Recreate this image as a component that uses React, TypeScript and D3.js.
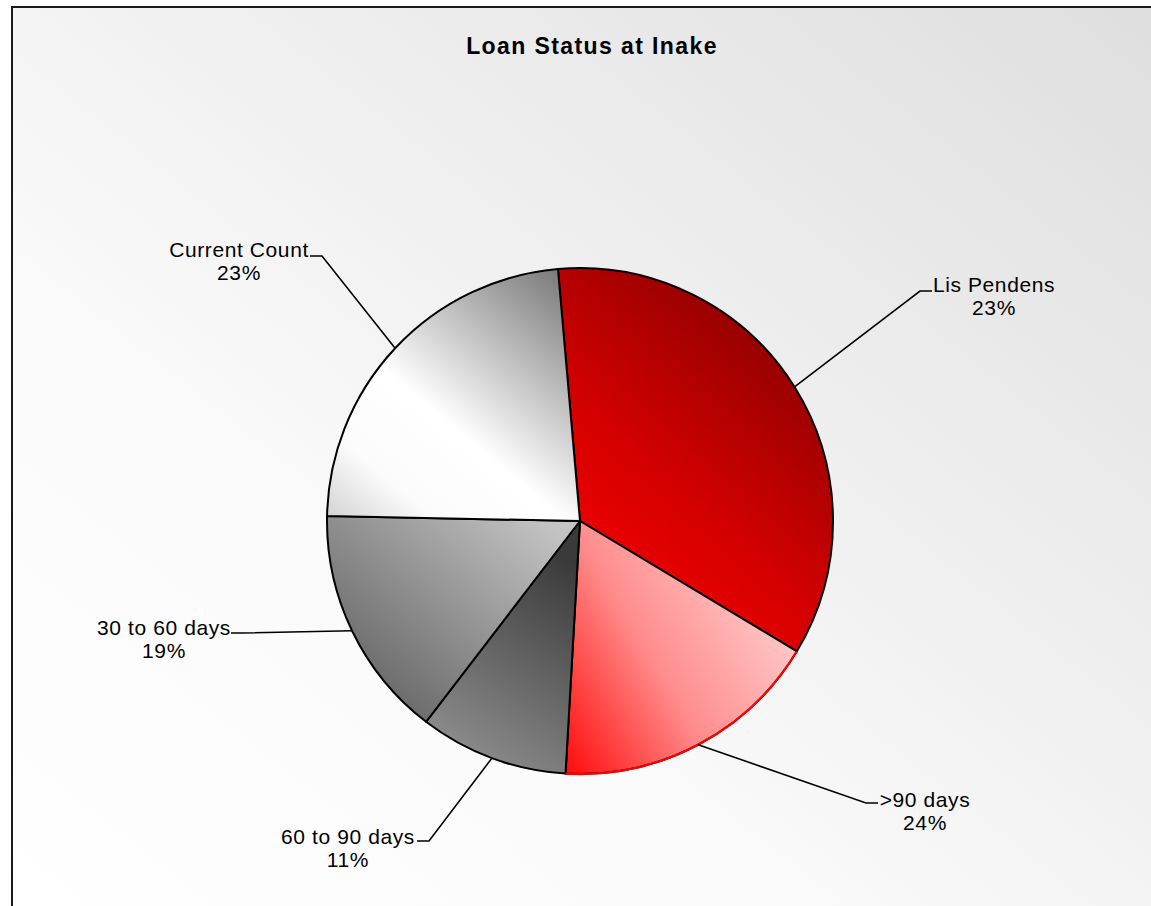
import React from 'react';
import * as d3 from 'd3';

// slice data (angles) and the printed labels
const categories = ['Lis Pendens', '>90 days', '60 to 90 days', '30 to 60 days', 'Current Count'];
const sliceValues = [35.0, 17.3, 9.5, 14.9, 23.3];
const labelPercents = ['23%', '24%', '11%', '19%', '23%'];

// per-slice gradient: from point, to point (relative to pie centre), stops
const sliceFills = [
  { from: [0, 60], to: [230, -200], stops: [[0, '#f50000'], [0.4, '#d20000'], [1, '#880000']] },
  { from: [-10, 250], to: [210, 120], stops: [[0, '#ff1010'], [0.5, '#ff8c8c'], [1, '#ffc6c6']] },
  { from: [-130, 220], to: [-10, 40], stops: [[0, '#8a8a8a'], [1, '#3a3a3a']] },
  { from: [-180, 190], to: [-20, 10], stops: [[0, '#6a6a6a'], [1, '#c4c4c4']] },
  { from: [-20, -250], to: [-260, 40], stops: [[0, '#7a7a7a'], [0.5, '#ffffff'], [0.72, '#fbfbfb'], [1, '#bcbcbc']] },
];

// leader elbow and label centre, relative to pie centre
const labelLayout = [
  { elbow: [340, -230], dir: 1, text: [414, -229] },
  { elbow: [286, 282], dir: 1, text: [345, 286] },
  { elbow: [-151, 320], dir: -1, text: [-232, 323] },
  { elbow: [-337, 112], dir: -1, text: [-416, 114] },
  { elbow: [-258, -265], dir: -1, text: [-341, -264] },
];

const W = 1151;
const H = 906;
const cx = 580;
const cy = 521;
const radius = 253;
const FONT = '"Liberation Sans", Arial, Helvetica, sans-serif';

export default function App() {
  const pie = d3
    .pie<number>()
    .sort(null)
    .startAngle((-5 * Math.PI) / 180)
    .endAngle((355 * Math.PI) / 180);
  const arcs = pie(sliceValues);

  const arc = d3.arc<d3.PieArcDatum<number>>().innerRadius(0).outerRadius(radius);
  const rim = d3.arc<d3.PieArcDatum<number>>().innerRadius(radius).outerRadius(radius);

  return (
    <svg width={W} height={H} style={{ position: 'absolute', left: 0, top: 0 }}>
      <defs>
        <linearGradient id="bg" x1="0" y1="1" x2="1" y2="0">
          <stop offset="0" stopColor="#ffffff" />
          <stop offset="0.35" stopColor="#fafafa" />
          <stop offset="1" stopColor="#dedede" />
        </linearGradient>
        {sliceFills.map((f, i) => (
          <linearGradient
            key={i}
            id={`slice${i}`}
            gradientUnits="userSpaceOnUse"
            x1={f.from[0]}
            y1={f.from[1]}
            x2={f.to[0]}
            y2={f.to[1]}>
            {f.stops.map((s, j) => (
              <stop key={j} offset={s[0] as number} stopColor={s[1] as string} />
            ))}
          </linearGradient>
        ))}
      </defs>

      <rect x={0} y={0} width={W} height={H} fill="#ffffff" />
      <rect x={12} y={7} width={W + 20} height={H + 20} fill="url(#bg)" stroke="#1a1a1a" strokeWidth={2} />

      <text
        x={592}
        y={54}
        textAnchor="middle"
        fontFamily={FONT}
        fontSize={23}
        fontWeight="bold"
        letterSpacing={1.4}
        fill="#000">
        Loan Status at Inake
      </text>

      <g transform={`translate(${cx},${cy})`}>
        {arcs.map((a, i) => (
          <path key={categories[i]} d={arc(a) as string} fill={`url(#slice${i})`} stroke="#000" strokeWidth={2} strokeLinejoin="round" />
        ))}
        {/* the >90 days rim is drawn red */}
        <path d={rim(arcs[1]) as string} fill="none" stroke="#ff0000" strokeWidth={2.2} />

        {arcs.map((a, i) => {
          const mid = (a.startAngle + a.endAngle) / 2;
          const ax = Math.sin(mid) * radius;
          const ay = -Math.cos(mid) * radius;
          const L = labelLayout[i];
          const ex = L.elbow[0] + L.dir * 12;
          return (
            <g key={categories[i]}>
              <polyline
                points={`${ax},${ay} ${L.elbow[0]},${L.elbow[1]} ${ex},${L.elbow[1]}`}
                fill="none"
                stroke="#000"
                strokeWidth={1.6}
              />
              <text
                x={L.text[0]}
                y={L.text[1]}
                textAnchor="middle"
                fontFamily={FONT}
                fontSize={21}
                letterSpacing={0.6}
                fill="#000">
                <tspan x={L.text[0]}>{categories[i]}</tspan>
                <tspan x={L.text[0]} dy={23}>
                  {labelPercents[i]}
                </tspan>
              </text>
            </g>
          );
        })}
      </g>
    </svg>
  );
}
